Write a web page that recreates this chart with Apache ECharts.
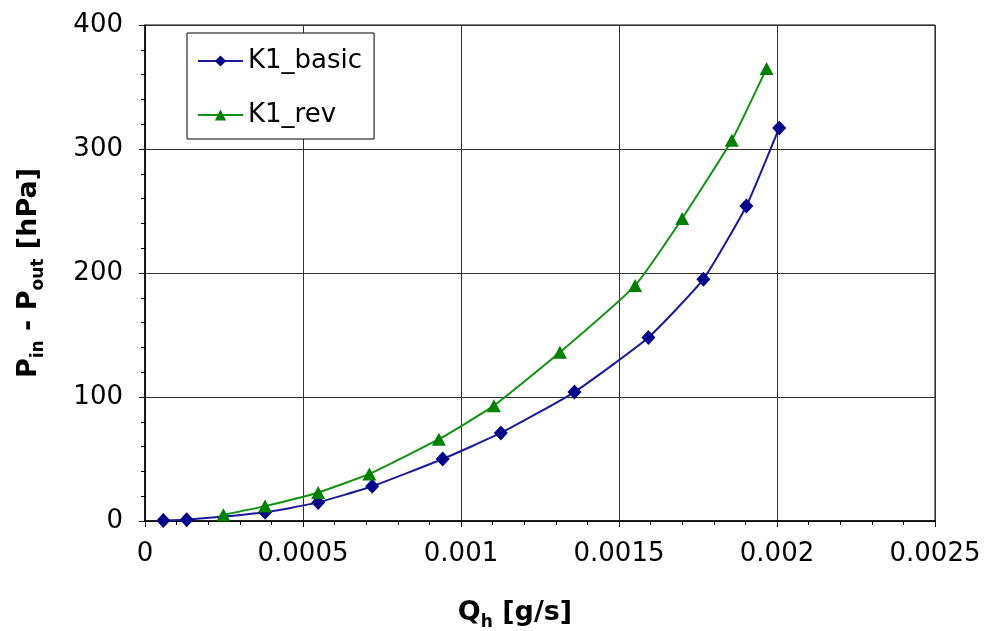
<!DOCTYPE html>
<html>
<head>
<meta charset="utf-8">
<script src="https://cdn.jsdelivr.net/npm/echarts@6/dist/echarts.min.js"></script>
<style>html,body{margin:0;padding:0;background:#fff}#c{width:996px;height:631px}</style>
</head>
<body>
<div id="c"></div>
<script>
const seriesNames = ['K1_basic', 'K1_rev'];
const basicX = [0.000058, 0.000132, 0.00038, 0.000548, 0.000719, 0.000942, 0.001126, 0.001359, 0.001593, 0.001767, 0.001903, 0.002007];
const basicY = [0.5, 1, 7, 15, 28, 50, 71, 104, 148, 195, 254, 317];
const revX = [0.000248, 0.00038, 0.000548, 0.00071, 0.00093, 0.001104, 0.001313, 0.001551, 0.0017, 0.001857, 0.001967];
const revY = [5, 12, 23, 38, 66, 93, 136, 190, 244, 307, 365];
const xTickLabels = ['0', '0.0005', '0.001', '0.0015', '0.002', '0.0025'];
const yTickLabels = ['0', '100', '200', '300', '400'];

const font = 'DejaVu Sans';
const chart = echarts.init(document.getElementById('c'));
const pair = (xs, ys) => xs.map((x, i) => [x, ys[i]]);
const xLabelMap = {};
xTickLabels.forEach(t => { xLabelMap[Number(t).toFixed(4)] = t; });

const titleRich = {
  b: { fontFamily: font, fontSize: 27, fontWeight: 'bold', color: '#000', lineHeight: 36, verticalAlign: 'middle' },
  s: { fontFamily: font, fontSize: 17, fontWeight: 'bold', color: '#000', lineHeight: 36, verticalAlign: 'bottom' }
};

chart.setOption({
  animation: false,
  backgroundColor: '#fff',
  grid: { left: 145, right: 61, top: 25, bottom: 110, show: true, borderColor: '#000', borderWidth: 1,
    containLabel: false, outerBoundsMode: 'none' },
  legend: {
    orient: 'vertical', left: 187, top: 33,
    padding: [13, 12, 9, 10], itemGap: 24, itemWidth: 45, itemHeight: 14,
    backgroundColor: '#fff', borderColor: '#000', borderWidth: 1,
    textStyle: { fontFamily: font, fontSize: 26, color: '#000', lineHeight: 30 },
    data: seriesNames
  },
  xAxis: {
    type: 'value', min: 0, max: 0.0025, interval: 0.0005,
    axisLine: { onZero: false, lineStyle: { color: '#000', width: 1.5 } },
    axisTick: { show: true, length: 6, lineStyle: { color: '#000' } },
    minorTick: { show: true, splitNumber: 5, length: 4, lineStyle: { color: '#000' } },
    splitLine: { show: true, lineStyle: { color: '#333', width: 1 } },
    axisLabel: { fontFamily: font, fontSize: 26, color: '#000', margin: 20,
      formatter: v => xLabelMap[v.toFixed(4)] ?? String(v) },
    name: '{b|Q}{s|h}{b| [g/s]}', nameLocation: 'middle', nameGap: 74,
    nameTextStyle: { padding: [0, 50, 0, 0], rich: titleRich }
  },
  yAxis: {
    type: 'value', min: 0, max: 400, interval: 100,
    axisLine: { show: true, lineStyle: { color: '#000', width: 1.5 } },
    axisTick: { show: true, length: 6, lineStyle: { color: '#000' } },
    minorTick: { show: true, splitNumber: 5, length: 4, lineStyle: { color: '#000' } },
    splitLine: { show: true, lineStyle: { color: '#333', width: 1 } },
    axisLabel: { fontFamily: font, fontSize: 26, color: '#000', margin: 22,
      formatter: v => yTickLabels[Math.round(v / 100)] ?? String(v) },
    name: '{b|P}{s|in}{b| - P}{s|out}{b| [hPa]}', nameLocation: 'middle', nameGap: 98,
    nameTextStyle: { rich: titleRich }
  },
  series: [
    { name: seriesNames[0], type: 'line', data: pair(basicX, basicY), smooth: 0.15,
      symbol: 'diamond', symbolSize: [14, 15], color: '#000088',
      lineStyle: { width: 2, color: '#1a1a99' }, itemStyle: { color: '#000088' } },
    { name: seriesNames[1], type: 'line', data: pair(revX, revY), smooth: 0.15,
      symbol: 'triangle', symbolSize: [14, 13], color: '#008000',
      lineStyle: { width: 2, color: '#129212' }, itemStyle: { color: '#008000' } }
  ]
});
</script>
</body>
</html>
